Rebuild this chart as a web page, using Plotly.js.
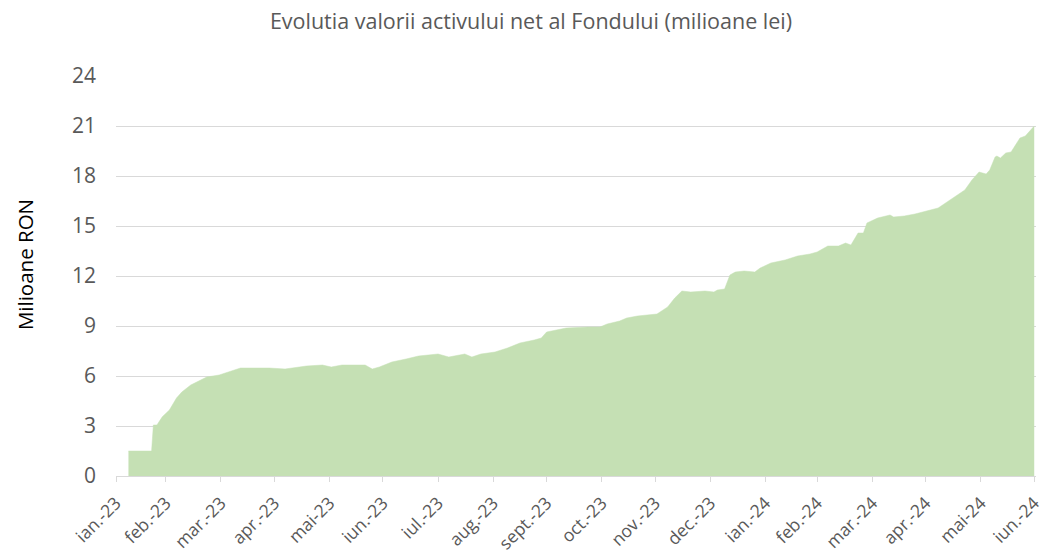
<!DOCTYPE html>
<html>
<head>
<meta charset="utf-8">
<script src="https://cdn.plot.ly/plotly-3.0.1.min.js"></script>
<style>html,body{margin:0;padding:0;background:#fff;}#chart{width:1044px;height:557px;}</style>
</head>
<body>
<div id="chart"></div>
<script>
const dates = ["2023-02-07","2023-02-20","2023-02-21","2023-02-23","2023-02-26","2023-03-02","2023-03-06","2023-03-09","2023-03-14","2023-03-20","2023-03-23","2023-03-30","2023-04-04","2023-04-11","2023-04-27","2023-05-06","2023-05-18","2023-05-27","2023-06-01","2023-06-07","2023-06-20","2023-06-24","2023-06-28","2023-07-05","2023-07-13","2023-07-20","2023-07-31","2023-08-06","2023-08-15","2023-08-19","2023-08-24","2023-09-01","2023-09-08","2023-09-15","2023-09-23","2023-09-27","2023-09-30","2023-10-05","2023-10-11","2023-10-23","2023-10-30","2023-11-03","2023-11-10","2023-11-14","2023-11-20","2023-12-01","2023-12-07","2023-12-11","2023-12-15","2023-12-20","2023-12-28","2024-01-02","2024-01-04","2024-01-08","2024-01-11","2024-01-14","2024-01-19","2024-01-25","2024-01-28","2024-02-03","2024-02-11","2024-02-18","2024-02-25","2024-02-29","2024-03-06","2024-03-12","2024-03-16","2024-03-19","2024-03-23","2024-03-26","2024-03-28","2024-04-03","2024-04-10","2024-04-12","2024-04-18","2024-04-24","2024-05-01","2024-05-07","2024-05-12","2024-05-16","2024-05-22","2024-05-26","2024-05-30","2024-06-03","2024-06-05","2024-06-08","2024-06-09","2024-06-11","2024-06-14","2024-06-17","2024-06-22","2024-06-25","2024-06-30"];
const values = [1.5,1.5,3.06,3.06,3.55,3.96,4.68,5.04,5.46,5.76,5.94,6.06,6.24,6.48,6.48,6.42,6.6,6.66,6.54,6.66,6.66,6.42,6.54,6.84,7.02,7.2,7.32,7.14,7.32,7.14,7.32,7.44,7.68,7.98,8.16,8.28,8.64,8.76,8.88,8.94,8.94,9.12,9.3,9.48,9.6,9.72,10.14,10.68,11.1,11.04,11.1,11.04,11.16,11.22,12.06,12.24,12.3,12.24,12.48,12.78,12.96,13.2,13.32,13.44,13.8,13.8,13.98,13.86,14.58,14.58,15.18,15.48,15.66,15.54,15.6,15.72,15.9,16.08,16.44,16.74,17.16,17.76,18.24,18.12,18.36,19.14,19.2,19.08,19.38,19.44,20.28,20.4,21.0];
const tickDates = ["2023-01-31","2023-02-28","2023-03-31","2023-04-30","2023-05-31","2023-06-30","2023-07-31","2023-08-31","2023-09-30","2023-10-31","2023-11-30","2023-12-31","2024-01-31","2024-02-29","2024-03-31","2024-04-30","2024-05-31","2024-06-30"];
const tickLabels = ["ian.-23","feb.-23","mar.-23","apr.-23","mai-23","iun.-23","iul.-23","aug.-23","sept.-23","oct.-23","nov.-23","dec.-23","ian.-24","feb.-24","mar.-24","apr.-24","mai-24","iun.-24"];
const yTicks = [0,3,6,9,12,15,18,21,24];

const trace = {
  x: dates, y: values, type: 'scatter', mode: 'lines',
  fill: 'tozeroy', fillcolor: '#C5E0B4',
  line: {color: '#C5E0B4', width: 0.5},
  hoverinfo: 'x+y'
};
const layout = {
  width: 1044, height: 557,
  margin: {l: 116, r: 8, t: 76, b: 81},
  paper_bgcolor: '#fff', plot_bgcolor: '#fff',
  font: {family: '"Open Sans", sans-serif', color: '#595959'},
  title: {text: 'Evolutia valorii activului net al Fondului (milioane lei)', x: 0.5086, xanchor: 'center', y: 0.962, yanchor: 'middle', font: {size: 21.5, color: '#595959', family: '"Open Sans", sans-serif'}},
  showlegend: false,
  xaxis: {
    type: 'date', range: ['2023-01-31', '2024-07-01'],
    tickmode: 'array', tickvals: tickDates, ticktext: tickLabels,
    tickangle: -45, tickfont: {size: 17.5, color: '#595959'},
    ticklabeloverflow: 'allow', ticklabelstandoff: 4,
    showgrid: false, showline: true, linecolor: '#D9D9D9', linewidth: 1,
    ticks: 'outside', ticklen: 5, tickcolor: '#D9D9D9', zeroline: false, fixedrange: true
  },
  yaxis: {
    range: [0, 24], tickmode: 'array', tickvals: yTicks,
    tickfont: {size: 21, color: '#595959'},
    showgrid: true, gridcolor: '#D9D9D9', gridwidth: 1, zeroline: false,
    showline: false, ticks: '', ticklabelstandoff: 19,
    fixedrange: true
  },
  annotations: [{
    text: 'Milioane RON', xref: 'paper', yref: 'paper', x: -0.0988, y: 0.5275,
    xanchor: 'center', yanchor: 'middle', textangle: -90, showarrow: false,
    font: {size: 20.5, color: '#000000', family: '"Open Sans", sans-serif'}
  }]
};
Plotly.newPlot('chart', [trace], layout, {displayModeBar: false, staticPlot: true});
</script>
</body>
</html>
